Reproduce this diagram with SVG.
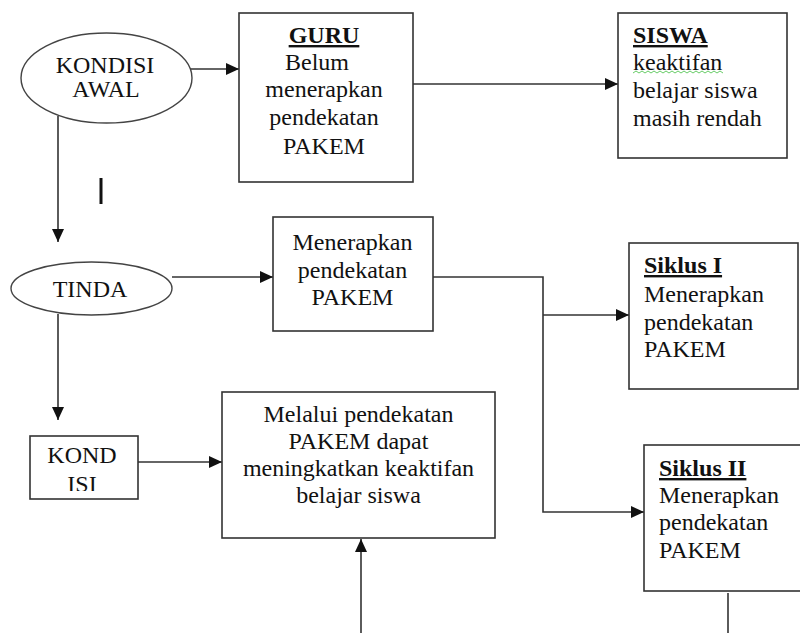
<svg xmlns="http://www.w3.org/2000/svg" width="800" height="633" viewBox="0 0 800 633">
<style>
.box{fill:#fff;stroke:#333;stroke-width:1.6}
.ell{fill:#fff;stroke:#444;stroke-width:1.4}
text{font-family:'Liberation Serif','DejaVu Serif','Times New Roman',serif;font-size:24px;fill:#111}
.c{text-anchor:middle}
.b{font-weight:bold;text-decoration:underline}
.ln{fill:none;stroke:#333;stroke-width:1.6}
</style>
<defs>
<marker id="ah" markerUnits="userSpaceOnUse" markerWidth="14" markerHeight="12" refX="13" refY="6" orient="auto">
<path d="M0,0 L13,6 L0,12 Z" fill="#111"/>
</marker>
<clipPath id="kclip"><rect x="30" y="436" width="108" height="55"/></clipPath>
</defs>
<rect width="800" height="633" fill="#fff"/>

<g id="connectors">
<line class="ln" x1="178" y1="69" x2="239" y2="69" marker-end="url(#ah)"/>
<line class="ln" x1="413" y1="84" x2="618" y2="84" marker-end="url(#ah)"/>
<line class="ln" x1="58" y1="116" x2="58" y2="242" marker-end="url(#ah)"/>
<line class="ln" x1="172" y1="277" x2="273" y2="277" marker-end="url(#ah)"/>
<line class="ln" x1="58" y1="314" x2="58" y2="420" marker-end="url(#ah)"/>
<polyline class="ln" points="433,277 543,277 543,512 644,512" marker-end="url(#ah)"/>
<line class="ln" x1="543" y1="315" x2="629" y2="315" marker-end="url(#ah)"/>
<line class="ln" x1="138" y1="462" x2="222" y2="462" marker-end="url(#ah)"/>
<line class="ln" x1="361" y1="633" x2="361" y2="539" marker-end="url(#ah)"/>
<line class="ln" x1="728" y1="593" x2="728" y2="633"/>
</g>

<g id="cursor">
<line x1="101" y1="178" x2="101" y2="204" stroke="#111" stroke-width="3"/>
</g>

<g id="kondisi-awal">
<ellipse class="ell" cx="106.5" cy="78" rx="85.5" ry="45"/>
<text class="c" x="105" y="73">KONDISI</text>
<text class="c" x="106" y="97">AWAL</text>
</g>

<g id="guru">
<rect class="box" x="239" y="13" width="174" height="169"/>
<text class="c b" x="324" y="43">GURU</text>
<text class="c" x="317" y="70">Belum</text>
<text class="c" x="324" y="97">menerapkan</text>
<text class="c" x="324" y="125">pendekatan</text>
<text class="c" x="324" y="154">PAKEM</text>
</g>

<g id="siswa">
<rect class="box" x="618" y="13" width="169" height="145"/>
<text class="b" x="633" y="43">SISWA</text>
<text x="633" y="70">keaktifan</text>
<path d="M633,73 l3,-2 l3,2 l3,-2 l3,2 l3,-2 l3,2 l3,-2 l3,2 l3,-2 l3,2 l3,-2 l3,2 l3,-2 l3,2 l3,-2 l3,2 l3,-2 l3,2 l3,-2 l3,2 l3,-2 l3,2 l3,-2 l3,2 l3,-2 l3,2 l3,-2 l3,2 l3,-2 l3,2" fill="none" stroke="#6c6" stroke-width="1"/>
<text x="633" y="98">belajar siswa</text>
<text x="633" y="126">masih rendah</text>
</g>

<g id="tinda">
<ellipse class="ell" cx="91.5" cy="288.5" rx="80.5" ry="26.5"/>
<text class="c" x="90" y="297">TINDA</text>
</g>

<g id="menerapkan">
<rect class="box" x="273" y="217" width="160" height="114"/>
<text class="c" x="352.5" y="250">Menerapkan</text>
<text class="c" x="352.5" y="278">pendekatan</text>
<text class="c" x="352.5" y="305">PAKEM</text>
</g>

<g id="siklus-1">
<rect class="box" x="629" y="243" width="169" height="146"/>
<text class="b" x="644" y="273">Siklus I</text>
<text x="644" y="302">Menerapkan</text>
<text x="644" y="330">pendekatan</text>
<text x="644" y="357">PAKEM</text>
</g>

<g id="kond-isi">
<rect class="box" x="30" y="436" width="108" height="63"/>
<g clip-path="url(#kclip)">
<text class="c" x="82" y="463">KOND</text>
<text class="c" x="82" y="492">ISI</text>
</g>
</g>

<g id="melalui">
<rect class="box" x="222" y="392" width="273" height="146"/>
<text class="c" x="358.5" y="422">Melalui pendekatan</text>
<text class="c" x="358.5" y="449">PAKEM dapat</text>
<text class="c" x="358.5" y="476">meningkatkan keaktifan</text>
<text class="c" x="358.5" y="503">belajar siswa</text>
</g>

<g id="siklus-2">
<rect class="box" x="644" y="445" width="170" height="146"/>
<text class="b" x="659" y="476">Siklus II</text>
<text x="659" y="503">Menerapkan</text>
<text x="659" y="530">pendekatan</text>
<text x="659" y="558">PAKEM</text>
</g>
</svg>
